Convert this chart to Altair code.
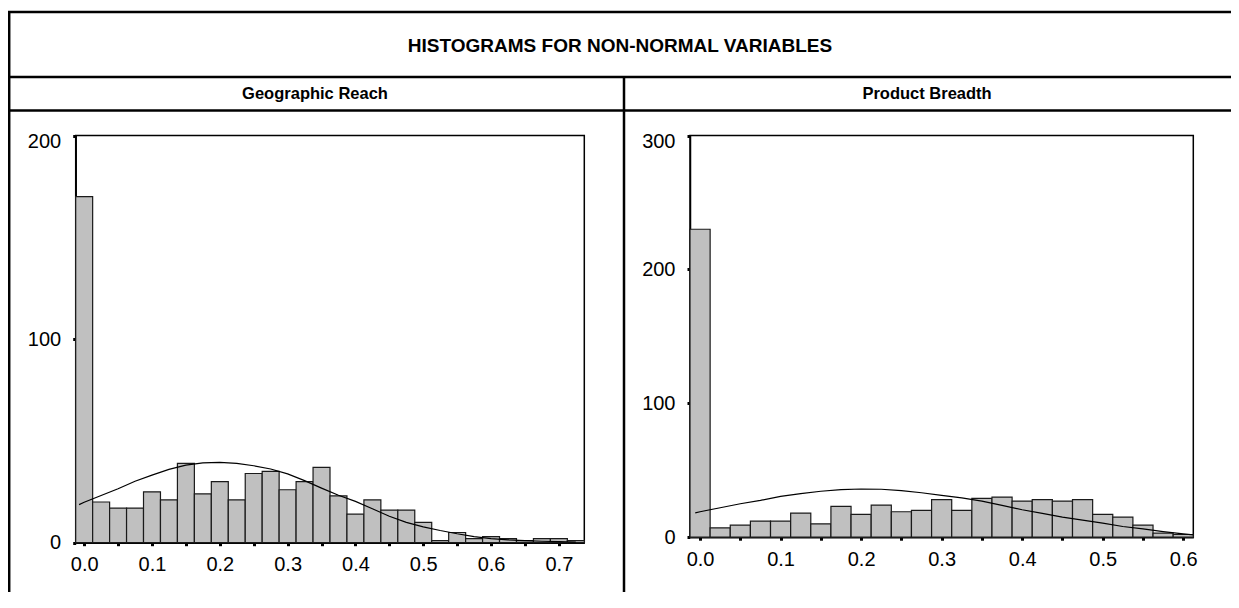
import altair as alt
import pandas as pd

# ---------------- data ----------------
TITLE = "HISTOGRAMS FOR NON-NORMAL VARIABLES"
LEFT_TITLE = "Geographic Reach"
RIGHT_TITLE = "Product Breadth"

BIN_WIDTH = 0.025

geo_bins = [0.0, 0.025, 0.05, 0.075, 0.1, 0.125, 0.15, 0.175, 0.2, 0.225,
            0.25, 0.275, 0.3, 0.325, 0.35, 0.375, 0.4, 0.425, 0.45, 0.475,
            0.5, 0.525, 0.55, 0.575, 0.6, 0.625, 0.65, 0.675, 0.7, 0.725]
geo_counts = [170, 20, 17, 17, 25, 21, 39, 24, 30, 21,
              34, 35, 26, 30, 37, 23, 14, 21, 16, 16,
              10, 1, 5, 2, 3, 2, 1, 2, 2, 1]
geo_curve_x = [-0.0075, 0.0, 0.025, 0.05, 0.075, 0.1, 0.125, 0.15, 0.175, 0.2,
               0.225, 0.25, 0.275, 0.3, 0.325, 0.35, 0.375, 0.4, 0.425, 0.45,
               0.475, 0.5, 0.525, 0.55, 0.575, 0.6, 0.625, 0.65, 0.675, 0.7, 0.725]
geo_curve_y = [18.7, 19.9, 23.2, 26.5, 30.2, 33.2, 36.0, 38.1, 39.2, 39.5,
               39.0, 37.8, 36.2, 33.8, 30.5, 26.8, 23.3, 20.3, 16.7, 13.0,
               10.0, 7.8, 6.0, 4.4, 3.0, 2.0, 1.4, 1.0, 0.7, 0.5, 0.3]
geo_ticks = [0.0, 0.05, 0.1, 0.15, 0.2, 0.25, 0.3, 0.35, 0.4, 0.45, 0.5,
             0.55, 0.6, 0.65, 0.7]
geo_y_ticks = [0, 100, 200]

prod_bins = [0.0, 0.025, 0.05, 0.075, 0.1, 0.125, 0.15, 0.175, 0.2, 0.225,
             0.25, 0.275, 0.3, 0.325, 0.35, 0.375, 0.4, 0.425, 0.45, 0.475,
             0.5, 0.525, 0.55, 0.575, 0.6]
prod_counts = [230, 7, 9, 12, 12, 18, 10, 23, 17, 24,
               19, 20, 28, 20, 29, 30, 27, 28, 27, 28,
               17, 15, 9, 3, 2]
prod_curve_x = [-0.006, 0.0, 0.025, 0.05, 0.075, 0.1, 0.125, 0.15, 0.175, 0.2,
                0.225, 0.25, 0.275, 0.3, 0.325, 0.35, 0.375, 0.4, 0.425, 0.45,
                0.475, 0.5, 0.525, 0.55, 0.575, 0.6, 0.6125]
prod_curve_y = [18.2, 19.0, 22.0, 25.0, 27.5, 30.5, 32.5, 34.3, 35.5, 36.0,
                35.8, 34.8, 33.2, 31.2, 29.3, 27.0, 23.8, 20.5, 17.8, 15.0,
                12.8, 10.5, 8.0, 6.2, 4.2, 2.5, 1.8]
prod_ticks = [0.0, 0.05, 0.1, 0.15, 0.2, 0.25, 0.3, 0.35, 0.4, 0.45, 0.5,
              0.55, 0.6]
prod_y_ticks = [0, 100, 200, 300]

# ---------------- layout (chart pixel coordinates) ----------------
W, H = 1223, 584
FONT = "Liberation Sans"
FRAME_W = 2.5
LABEL_EXPR = "round(datum.value * 20) % 2 == 0 ? format(datum.value, '.1f') : ''"

one = alt.Data(values=[{}])


def hist_panel(bins, counts, cx, cy, xdom, xrange, xticks, ydom, yrange, yticks):
    bars = pd.DataFrame({
        "x0": [b - BIN_WIDTH / 2 for b in bins],
        "x1": [b + BIN_WIDTH / 2 for b in bins],
        "count": counts,
        "zero": [0] * len(counts),
    })
    curve = pd.DataFrame({"cx": cx, "cy": cy})
    xscale = alt.Scale(domain=xdom, range=xrange, nice=False, zero=False)
    yscale = alt.Scale(domain=ydom, range=yrange, nice=False)
    top_offset = {"condition": {"test": f"datum.value == {ydom[1]}", "value": 6},
                  "value": 0}
    xaxis = alt.Axis(orient="bottom", offset=-(H - yrange[0]), values=xticks,
                     labelExpr=LABEL_EXPR, tickSize=3, tickWidth=3,
                     labelPadding=9, domainWidth=1.5, grid=False, title=None)
    yaxis = alt.Axis(orient="left", offset=-xrange[0], values=yticks, format="d",
                     tickSize=3, tickWidth=3, labelPadding=12, domainWidth=1.5,
                     grid=False, title=None, labelOffset=top_offset)
    b = alt.Chart(bars).mark_bar(fill="#c0c0c0", stroke="#1a1a1a",
                                 strokeWidth=1.2).encode(
        x=alt.X("x0:Q", scale=xscale, axis=xaxis),
        x2="x1:Q",
        y=alt.Y("count:Q", scale=yscale, axis=yaxis),
        y2="zero:Q",
    )
    ln = alt.Chart(curve).mark_line(color="black", strokeWidth=1.2).encode(
        x=alt.X("cx:Q", scale=xscale, axis=xaxis),
        y=alt.Y("cy:Q", scale=yscale, axis=yaxis),
    )
    box = alt.Chart(one).mark_rect(filled=False, stroke="black",
                                   strokeWidth=1.5).encode(
        x=alt.value(xrange[0]), x2=alt.value(xrange[1]),
        y=alt.value(yrange[1]), y2=alt.value(yrange[0]),
    )
    return box, alt.layer(b, ln)


left_box, left = hist_panel(geo_bins, geo_counts, geo_curve_x, geo_curve_y,
                            [-0.0125, 0.7375], [67.7, 576.3], geo_ticks,
                            [0, 200], [534.7, 127.5], geo_y_ticks)
right_box, right = hist_panel(prod_bins, prod_counts, prod_curve_x, prod_curve_y,
                              [-0.0125, 0.6125], [682, 1185.3], prod_ticks,
                              [0, 300], [529.2, 127.5], prod_y_ticks)

# table frame
frame_segments = [
    (0, W, 4, 4),
    (0, W, 69, 69),
    (0, W, 102.5, 102.5),
    (1.2, 1.2, 4, H),
    (616, 616, 69, H),
]
frame = [
    alt.Chart(one).mark_rule(color="black", strokeWidth=FRAME_W).encode(
        x=alt.value(a), x2=alt.value(b), y=alt.value(c), y2=alt.value(d))
    for a, b, c, d in frame_segments
]


def label(text, x, y, size):
    return alt.Chart(one).mark_text(font=FONT, fontWeight="bold", fontSize=size,
                                    color="black", align="center",
                                    baseline="middle").encode(
        x=alt.value(x), y=alt.value(y), text=alt.value(text))


texts = [
    label(TITLE, 612, 37.5, 19),
    label(LEFT_TITLE, 307, 85.5, 16.5),
    label(RIGHT_TITLE, 919, 85.5, 16.5),
]

chart = alt.layer(*frame, *texts, left_box, right_box, left, right).resolve_scale(
    x="independent", y="independent"
).properties(
    width=W, height=H, padding=0,
    autosize=alt.AutoSizeParams(type="none"),
).configure_view(stroke=None).configure_axis(
    labelFont=FONT, labelFontSize=20, labelColor="black",
    domainColor="black", tickColor="black",
)

chart.save("out.html", embed_options={"renderer": "svg", "actions": False})
